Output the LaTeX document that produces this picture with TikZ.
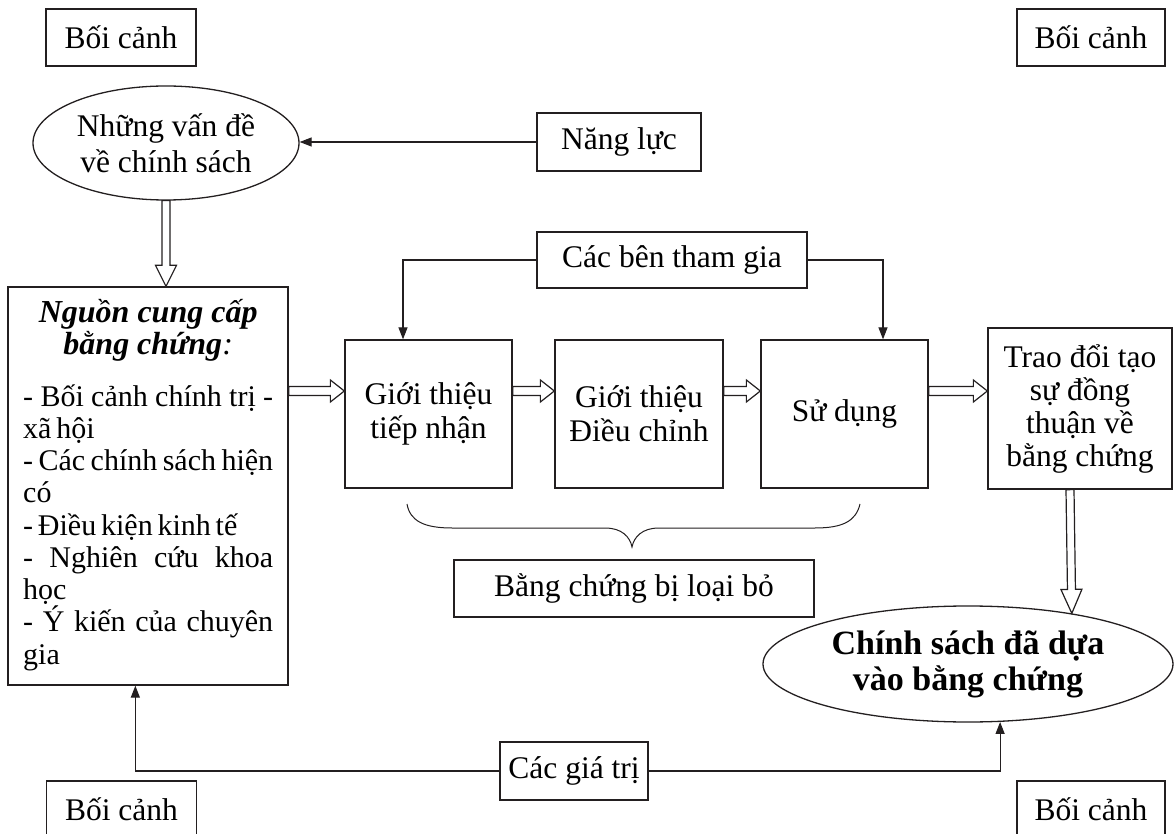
\documentclass[tikz,border=0pt]{standalone}
\usepackage{fontspec}
\setmainfont{Liberation Serif}
\usetikzlibrary{arrows.meta,calc,shapes.geometric}

\definecolor{ink}{HTML}{231F20}
\newcommand\mainsz{\fontsize{31.5}{34}\selectfont}

% hollow block arrow: #1 start, #2 tip, #3 shaft half width, #4 head half width, #5 head length
\newcommand\fatarrow[5]{%
  \coordinate (fat-b) at ($(#2)!#5!(#1)$);
  \draw[fatline] ($(#1)!#3!90:(#2)$) -- ($(fat-b)!#3!90:(#2)$) -- ($(fat-b)!#4!90:(#2)$) -- (#2)
    -- ($(fat-b)!#4!-90:(#2)$) -- ($(fat-b)!#3!-90:(#2)$) -- ($(#1)!#3!-90:(#2)$) -- cycle;}

\tikzset{
  box/.style={draw=ink, line width=1.3pt, inner sep=0pt, align=center, font=\mainsz},
  oval/.style={ellipse, draw=ink, line width=1.3pt, inner sep=0pt, align=center, font=\mainsz},
  tip/.style={draw=ink, line width=1.2pt, -{Triangle[length=12pt,width=9pt]}},
  fatline/.style={draw=ink, line width=1.2pt, fill=white, line join=miter},
  bracestyle/.style={draw=ink, line width=1pt},
}

\begin{document}
\begin{tikzpicture}[x=1pt, y=-1pt]
\useasboundingbox (0,0) rectangle (1176,834);

% context labels in the four corners
\node[box, minimum width=150pt, minimum height=57pt] (ctx1) at (121,37.5) {Bối cảnh};
\node[box, minimum width=148pt, minimum height=57pt] (ctx2) at (1091,37.5) {Bối cảnh};
\node[box, minimum width=150pt, minimum height=57pt] (ctx3) at (121.5,809.5) {Bối cảnh};
\node[box, minimum width=148pt, minimum height=57pt] (ctx4) at (1091,809.5) {Bối cảnh};

% policy issues and capacity
\node[oval, font=\fontsize{31.5}{36}\selectfont, minimum width=266pt, minimum height=114pt] (ell1) at (166,143) {Những vấn đề\\về chính sách};
\node[box, minimum width=164pt, minimum height=58pt] (nangluc) at (619,142) {Năng lực};

% evidence sources
\node[draw=ink, line width=1.3pt, minimum width=280pt, minimum height=398pt, inner sep=0pt] (lbox) at (148,486) {};
\node[anchor=base west, inner sep=0pt] (lboxtext) at (23,323) {\parbox[t]{250pt}{%
  {\fontsize{32}{32}\selectfont\centering\bfseries\itshape Nguồn cung cấp\\ bằng chứng\textmd{:}\par}
  \fontsize{30}{32.25}\selectfont\spaceskip=0.16em plus 0.6em minus 0.05em
  \vspace{19pt}
  \makebox[\linewidth][s]{- Bối cảnh chính trị -}\par
  \makebox[\linewidth][l]{xã hội}\par
  \makebox[\linewidth][s]{- Các chính sách hiện}\par
  \makebox[\linewidth][l]{có}\par
  \makebox[\linewidth][l]{- Điều kiện kinh tế}\par
  \makebox[\linewidth][s]{- Nghiên cứu khoa}\par
  \makebox[\linewidth][l]{học}\par
  \makebox[\linewidth][s]{- Ý kiến của chuyên}\par
  \makebox[\linewidth][l]{gia}}};

% stakeholders and processing stages
\node[box, minimum width=270pt, minimum height=56pt] (cacben) at (672,260) {Các bên tham gia};
\node[box, minimum width=167pt, minimum height=148pt] (b1) at (428.5,414) {Giới thiệu\\tiếp nhận};
\node[box, minimum width=168pt, minimum height=148pt] (b2) at (639,414) {Giới thiệu\\Điều chỉnh};
\node[box, minimum width=167pt, minimum height=148pt] (b3) at (844.5,414) {Sử dụng};
\node[box, font=\fontsize{31.5}{33}\selectfont, minimum width=184pt, minimum height=161pt] (trao) at (1080,408.5) {Trao đổi tạo\\sự đồng\\thuận về\\bằng chứng};

% rejected evidence
\node[box, minimum width=360pt, minimum height=57pt] (loai) at (634,588.5) {Bằng chứng bị loại bỏ};
\draw[bracestyle] (407,504) .. controls (410,521) and (424,528) .. (452,528) -- (605,528)
  .. controls (622,528) and (630,537) .. (632,547)
  .. controls (634,537) and (642,528) .. (659,528) -- (815,528)
  .. controls (843,528) and (856,521) .. (860,504);

% result and values
\node[oval, font=\fontsize{34}{36}\selectfont\bfseries, minimum width=410pt, minimum height=116pt] (ell2) at (968,664) {Chính sách đã dựa\\vào bằng chứng};
\node[box, minimum width=148pt, minimum height=58pt] (giatri) at (574,771) {Các giá trị};

% thin connectors
\draw[tip] (nangluc.west) -- (nangluc.west -| ell1.east);
\draw[tip] (cacben.west) -| ([xshift=-25.5pt]b1.north);
\draw[tip] (cacben.east) -| ([xshift=38.5pt]b3.north);
\draw[tip] (giatri.west) -| ([xshift=128pt]lbox.south west);
\draw[tip] (giatri.east) -| (ell2.-61.6);

% block arrows
\coordinate (rowy) at (0,391);
\coordinate (fa1s) at (lbox.east |- rowy); \coordinate (fa1e) at (b1.west |- rowy);
\coordinate (fa2s) at (b1.east |- rowy);   \coordinate (fa2e) at (b2.west |- rowy);
\coordinate (fa3s) at (b2.east |- rowy);   \coordinate (fa3e) at (b3.west |- rowy);
\coordinate (fa4s) at (b3.east |- rowy);   \coordinate (fa4e) at (trao.west |- rowy);
\fatarrow{fa1s}{fa1e}{4.5pt}{11pt}{14pt}
\fatarrow{fa2s}{fa2e}{4.5pt}{11pt}{14pt}
\fatarrow{fa3s}{fa3e}{4.5pt}{11pt}{14pt}
\fatarrow{fa4s}{fa4e}{4.5pt}{11pt}{14pt}
\coordinate (fv1s) at (ell1.south); \coordinate (fv1e) at (lbox.north -| ell1.south);
\coordinate (fv2s) at ([xshift=-10pt]trao.south); \coordinate (fv2e) at (ell2.26.25);
\fatarrow{fv1s}{fv1e}{4pt}{10.5pt}{21pt}
\fatarrow{fv2s}{fv2e}{4pt}{10.5pt}{24pt}
\end{tikzpicture}
\end{document}
